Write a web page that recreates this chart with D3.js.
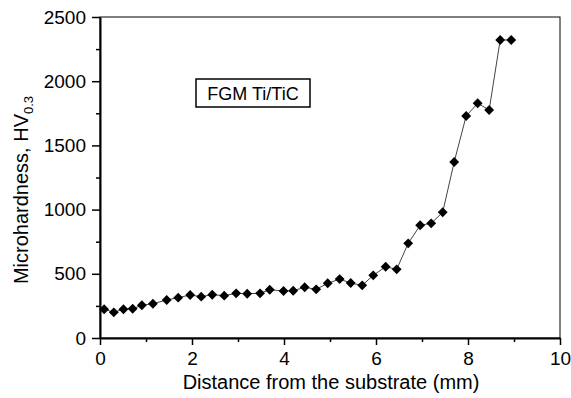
<!DOCTYPE html>
<html>
<head>
<meta charset="utf-8">
<script src="https://cdn.jsdelivr.net/npm/d3@7"></script>
<style>
    body { margin: 0; background: #fff; }
    svg text { font-family: "Liberation Sans", Arial, sans-serif; fill: #000; }
</style>
</head>
<body>
<script>
    'use strict';

    // distance from the substrate (mm) and microhardness (HV0.3)
    var distance = [0.09, 0.30, 0.51, 0.71, 0.91, 1.15, 1.45, 1.70, 1.96, 2.20,
                    2.44, 2.70, 2.96, 3.20, 3.48, 3.69, 3.99, 4.20, 4.45, 4.70,
                    4.95, 5.21, 5.45, 5.70, 5.94, 6.21, 6.45, 6.70, 6.96, 7.20,
                    7.45, 7.70, 7.96, 8.21, 8.46, 8.70, 8.94];
    var hardness = [224, 200, 224, 228, 255, 267, 296, 314, 335, 322,
                    337, 330, 348, 345, 348, 376, 366, 368, 395, 379,
                    426, 459, 428, 410, 488, 555, 535, 737, 878, 893,
                    979, 1371, 1729, 1828, 1776, 2321, 2321];

    var xTicks = [0, 2, 4, 6, 8, 10];
    var xMinor = [1, 3, 5, 7, 9];
    var yTicks = [0, 500, 1000, 1500, 2000, 2500];
    var yMinor = [250, 750, 1250, 1750, 2250];

    var legendText = 'FGM Ti/TiC';
    var xTitle = 'Distance from the substrate (mm)';
    var yTitle = 'Microhardness, HV';
    var yTitleSub = '0.3';

    var chart = (function () {
        var width = 571;
        var height = 398;
        var plotLeft = 100, plotRight = 560, plotTop = 17, plotBottom = 338;

        var x = d3.scaleLinear().domain([0, 10]).range([plotLeft, plotRight]);
        var y = d3.scaleLinear().domain([0, 2500]).range([plotBottom, plotTop]);

        var svg = d3.select('body').append('svg')
            .attr('width', width)
            .attr('height', height);

        // thin frame on top and right
        svg.append('rect')
            .attr('x', plotLeft).attr('y', plotTop)
            .attr('width', plotRight - plotLeft).attr('height', plotBottom - plotTop)
            .style('fill', 'none').style('stroke', '#000').style('stroke-width', 1);

        function styleAxis (g) {
            g.select('.domain').style('stroke-width', 2);
            g.selectAll('.tick line').style('stroke-width', 1.5);
            g.selectAll('text')
                .style('font-family', '"Liberation Sans", Arial, sans-serif')
                .style('font-size', '19px');
        }

        function styleMinor (g) {
            g.select('.domain').remove();
            g.selectAll('line').style('stroke-width', 1.5);
        }

        // minor ticks first, then major axis on top
        svg.append('g')
            .attr('transform', 'translate(0,' + plotBottom + ')')
            .call(d3.axisBottom(x).tickValues(xMinor).tickSize(4).tickFormat(''))
            .call(styleMinor);

        svg.append('g')
            .attr('transform', 'translate(' + plotLeft + ',0)')
            .call(d3.axisLeft(y).tickValues(yMinor).tickSize(4).tickFormat(''))
            .call(styleMinor);

        svg.append('g')
            .attr('transform', 'translate(0,' + plotBottom + ')')
            .call(d3.axisBottom(x).tickValues(xTicks).tickSize(7).tickSizeOuter(0).tickPadding(7).tickFormat(d3.format('d')))
            .call(styleAxis);

        svg.append('g')
            .attr('transform', 'translate(' + plotLeft + ',0)')
            .call(d3.axisLeft(y).tickValues(yTicks).tickSize(8).tickSizeOuter(0).tickPadding(6).tickFormat(d3.format('d')))
            .call(styleAxis);

        // data line and diamond markers
        var pts = distance.map(function (d, i) { return [d, hardness[i]]; });

        svg.append('path')
            .datum(pts)
            .attr('d', d3.line()
                .x(function (d) { return x(d[0]); })
                .y(function (d) { return y(d[1]); }))
            .style('fill', 'none')
            .style('stroke', '#444')
            .style('stroke-width', 1);

        var diamond = d3.symbol().type(d3.symbolDiamond2).size(62);
        svg.append('g').selectAll('path')
            .data(pts)
          .enter().append('path')
            .attr('d', diamond)
            .attr('transform', function (d) { return 'translate(' + x(d[0]) + ',' + y(d[1]) + ')'; })
            .style('fill', '#000');

        // label box
        svg.append('rect')
            .attr('x', 196).attr('y', 79)
            .attr('width', 114).attr('height', 28)
            .style('fill', '#fff').style('stroke', '#000').style('stroke-width', 1.5);
        svg.append('text')
            .attr('x', 253).attr('y', 100)
            .attr('text-anchor', 'middle')
            .style('font-size', '18px')
            .text(legendText);

        // axis titles
        svg.append('text')
            .attr('x', (plotLeft + plotRight) / 2 + 1).attr('y', 389)
            .attr('text-anchor', 'middle')
            .style('font-size', '20px')
            .text(xTitle);

        var yt = svg.append('text')
            .attr('transform', 'translate(28,190) rotate(-90)')
            .attr('text-anchor', 'middle')
            .style('font-size', '20px');
        yt.append('tspan').text(yTitle);
        yt.append('tspan')
            .attr('dy', 5)
            .style('font-size', '13px')
            .text(yTitleSub);

        return svg;
    })();
</script>
</body>
</html>
